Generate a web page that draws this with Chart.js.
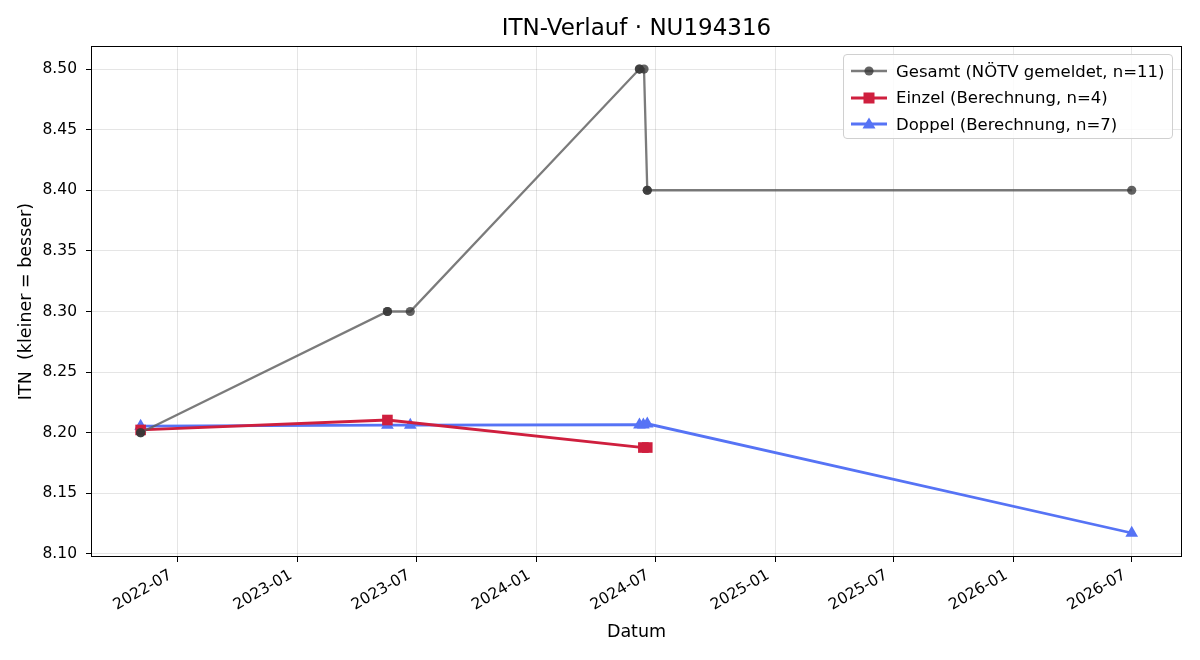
<!DOCTYPE html>
<html>
<head>
<meta charset="utf-8">
<script src="https://cdn.jsdelivr.net/npm/chart.js@4.4.1/dist/chart.umd.min.js"></script>
<style>
  html, body { margin: 0; padding: 0; background: #fff; }
  #wrap { position: relative; width: 1200px; height: 660px; }
  canvas { display: block; }
  #title {
    position: absolute; left: 91px; width: 1091px; top: 13px; text-align: center;
    font-family: "DejaVu Sans", sans-serif; font-size: 23px; line-height: 28px; color: #000;
  }
  #legend {
    position: absolute; left: 843px; top: 54px; width: 330px; height: 85px;
    border: 1px solid #d0d0d0; border-radius: 4px; background: rgba(255,255,255,0.85);
    font-family: "DejaVu Sans", sans-serif; font-size: 16.5px; color: #000; box-sizing: border-box;
  }
  .lg-row { position: absolute; left: 6px; height: 22px; display: flex; align-items: center; white-space: nowrap; }
  .lg-row svg { width: 38px; height: 22px; margin-right: 8px; }
</style>
</head>
<body>
<div id="wrap">
  <canvas id="c" width="1200" height="660"></canvas>
  <div id="title"></div>
  <div id="legend"></div>
</div>
<script>
// ---------- data ----------
const titleText = 'ITN-Verlauf · NU194316';
const xTitle = 'Datum';
const yTitle = 'ITN  (kleiner = besser)';

const gesamtLabel = 'Gesamt (NÖTV gemeldet, n=11)';
const gesamtDates = ['2022-05-05','2022-05-05','2023-05-18','2023-05-18','2023-06-22','2024-06-07','2024-06-07','2024-06-14','2024-06-19','2024-06-19','2026-07-01'];
const gesamtValues = [8.20, 8.20, 8.30, 8.30, 8.30, 8.50, 8.50, 8.50, 8.40, 8.40, 8.40];

const einzelLabel = 'Einzel (Berechnung, n=4)';
const einzelDates = ['2022-05-05','2023-05-18','2024-06-13','2024-06-19'];
const einzelValues = [8.2023, 8.2105, 8.1878, 8.1878];

const doppelLabel = 'Doppel (Berechnung, n=7)';
const doppelDates = ['2022-05-05','2023-05-18','2023-06-22','2024-06-07','2024-06-13','2024-06-19','2026-07-01'];
const doppelValues = [8.2055, 8.2063, 8.2063, 8.2066, 8.2066, 8.2074, 8.1173];

const xTickLabels = ['2022-07','2023-01','2023-07','2024-01','2024-07','2025-01','2025-07','2026-01','2026-07'];
const yTickValues = [8.10, 8.15, 8.20, 8.25, 8.30, 8.35, 8.40, 8.45, 8.50];
const xRange = ['2022-02-18','2026-09-16'];
const yRange = [8.0975, 8.519];

// ---------- helpers ----------
function toDay(s) {
  const p = s.split('-').map(Number);
  return Date.UTC(p[0], (p[1] || 1) - 1, p[2] || 1) / 86400000;
}
function fromDay(d) {
  const dt = new Date(d * 86400000);
  return dt.getUTCFullYear() + '-' + String(dt.getUTCMonth() + 1).padStart(2, '0');
}
function pts(dates, vals) { return dates.map((d, i) => ({ x: toDay(d), y: vals[i] })); }

const grayLine = 'rgba(90,90,90,0.8)';
const grayPt = 'rgba(55,55,55,0.78)';
const red = '#cf1f3e';
const blue = '#5673f5';

const frame = {
  id: 'frame',
  afterDatasetsDraw(chart) {
    const a = chart.chartArea, ctx = chart.ctx;
    ctx.save();
    ctx.strokeStyle = '#000';
    ctx.lineWidth = 1;
    ctx.strokeRect(Math.round(a.left) + 0.5, Math.round(a.top) + 0.5, Math.round(a.right - a.left) - 1, Math.round(a.bottom - a.top) - 1);
    ctx.restore();
  }
};

const font = { family: '"DejaVu Sans", sans-serif' };

new Chart(document.getElementById('c'), {
  type: 'line',
  data: {
    datasets: [
      {
        label: gesamtLabel, data: pts(gesamtDates, gesamtValues),
        borderColor: grayLine, backgroundColor: grayPt, borderWidth: 2.3,
        pointStyle: 'circle', pointRadius: 4.6, pointBorderWidth: 0, pointBackgroundColor: grayPt,
        tension: 0
      },
      {
        label: einzelLabel, data: pts(einzelDates, einzelValues),
        borderColor: red, backgroundColor: red, borderWidth: 2.8,
        pointStyle: 'rect', pointRadius: 7.5, pointBorderWidth: 0, pointBackgroundColor: red,
        tension: 0
      },
      {
        label: doppelLabel, data: pts(doppelDates, doppelValues),
        borderColor: blue, backgroundColor: blue, borderWidth: 2.8,
        pointStyle: 'triangle', pointRadius: 7.3, pointBorderWidth: 0, pointBackgroundColor: blue,
        tension: 0
      }
    ]
  },
  options: {
    responsive: false,
    animation: false,
    layout: { padding: { left: 0, right: 18, top: 46, bottom: 0 } },
    plugins: {
      legend: { display: false },
      tooltip: { enabled: false },
      title: { display: false }
    },
    scales: {
      x: {
        type: 'linear',
        min: toDay(xRange[0]), max: toDay(xRange[1]),
        afterBuildTicks(scale) { scale.ticks = xTickLabels.map(l => ({ value: toDay(l) })); },
        afterFit(scale) { scale.height = 103; },
        ticks: {
          callback: (v) => fromDay(v),
          autoSkip: false, minRotation: 30, maxRotation: 30,
          color: '#000', font: { ...font, size: 15.5 }, padding: 4, labelOffset: -7
        },
        grid: { color: 'rgba(0,0,0,0.1)', tickColor: '#000', tickLength: 5, drawTicks: true },
        border: { display: false },
        title: { display: true, text: xTitle, color: '#000', font: { ...font, size: 17.5 }, padding: { top: 0, bottom: 17 } }
      },
      y: {
        type: 'linear',
        min: yRange[0], max: yRange[1],
        afterBuildTicks(scale) { scale.ticks = yTickValues.map(v => ({ value: v })); },
        afterFit(scale) { scale.width = 91; },
        ticks: {
          callback: (v) => Number(v).toFixed(2),
          color: '#000', font: { ...font, size: 15.5 }, padding: 9
        },
        grid: { color: 'rgba(0,0,0,0.1)', tickColor: '#000', tickLength: 5 },
        border: { display: false },
        title: { display: true, text: yTitle, color: '#000', font: { ...font, size: 17.5 }, padding: { top: 16, bottom: 0 } }
      }
    }
  },
  plugins: [frame]
});

document.getElementById('title').textContent = titleText;

// ---------- legend (HTML) ----------
function markerSvg(color, lineW, shape, ptColor) {
  let m = '';
  if (shape === 'circle') m = `<circle cx="19" cy="11" r="4.6" fill="${ptColor}"/>`;
  if (shape === 'rect') m = `<rect x="13.5" y="5.5" width="11" height="11" fill="${ptColor}"/>`;
  if (shape === 'triangle') m = `<polygon points="19,4.5 25.5,15.5 12.5,15.5" fill="${ptColor}"/>`;
  return `<svg viewBox="0 0 38 22"><line x1="1" y1="11" x2="37" y2="11" stroke="${color}" stroke-width="${lineW}"/>${m}</svg>`;
}
const lg = document.getElementById('legend');
const entries = [
  [gesamtLabel, grayLine, 2.3, 'circle', grayPt],
  [einzelLabel, red, 2.8, 'rect', red],
  [doppelLabel, blue, 2.8, 'triangle', blue]
];
entries.forEach((e, i) => {
  const row = document.createElement('div');
  row.className = 'lg-row';
  row.style.top = (5 + i * 26.5) + 'px';
  row.innerHTML = markerSvg(e[1], e[2], e[3], e[4]) + '<span>' + e[0] + '</span>';
  lg.appendChild(row);
});
</script>
</body>
</html>
